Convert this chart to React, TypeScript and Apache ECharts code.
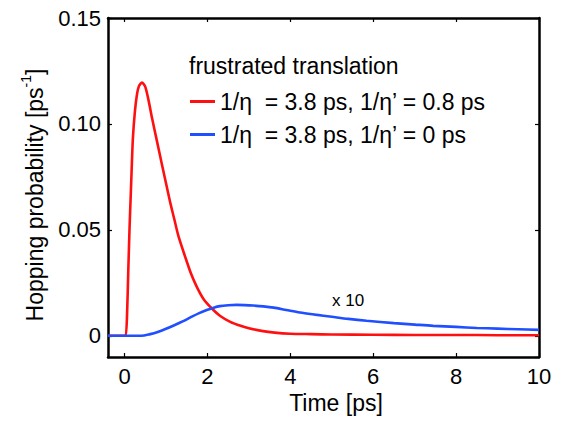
import React, { useEffect, useRef } from 'react';
import * as echarts from 'echarts';

// Red curve: 1/η = 3.8 ps, 1/η' = 0.8 ps
const redT = [-0.4, 0, 0.03, 0.06, 0.09, 0.12, 0.15, 0.17, 0.2, 0.25, 0.3, 0.35, 0.42, 0.5, 0.58, 0.66, 0.78, 0.9, 1.0, 1.1, 1.2, 1.3, 1.45, 1.6, 1.74, 1.9, 2.1, 2.3, 2.55, 2.8, 3.0, 3.34, 3.62, 4.0, 4.5, 5, 6, 7, 8, 9, 10];
const redV = [0, 0, 0, 0.01, 0.031, 0.051, 0.067, 0.078, 0.093, 0.106, 0.114, 0.118, 0.1195, 0.1175, 0.111, 0.103, 0.092, 0.081, 0.072, 0.063, 0.055, 0.047, 0.038, 0.0295, 0.0232, 0.0175, 0.013, 0.0095, 0.0066, 0.0047, 0.0036, 0.0022, 0.0015, 0.001, 0.0008, 0.0006, 0.0005, 0.0004, 0.0004, 0.0003, 0.0003];

// Blue curve (x 10): 1/η = 3.8 ps, 1/η' = 0 ps
const blueT = [-0.4, 0, 0.4, 0.62, 0.8, 1.0, 1.2, 1.4, 1.6, 1.8, 2.0, 2.15, 2.3, 2.5, 2.7, 2.9, 3.1, 3.35, 3.6, 3.9, 4.23, 4.6, 5.0, 5.4, 5.84, 6.5, 7.0, 7.45, 8.0, 8.5, 9.0, 9.5, 10];
const blueV = [0, 0, 0, 0.0008, 0.0018, 0.0033, 0.005, 0.0068, 0.0088, 0.0107, 0.0123, 0.0133, 0.014, 0.0144, 0.0146, 0.0145, 0.0143, 0.0139, 0.0133, 0.0122, 0.011, 0.01, 0.009, 0.008, 0.0071, 0.006, 0.0053, 0.0047, 0.0042, 0.0037, 0.0034, 0.0031, 0.0028];

const seriesNames = ['1/η  = 3.8 ps, 1/η’ = 0.8 ps', '1/η  = 3.8 ps, 1/η’ = 0 ps'];
const legendTitle = 'frustrated translation';
const scaleNote = 'x 10';
const xName = 'Time [ps]';
const xRange = [-0.4, 10];
const yRange = [-0.01, 0.15];

const FONT = '"Liberation Sans", Arial, Helvetica, sans-serif';
const RED = '#ff1010';
const BLUE = '#1f4fff';

export default function App() {
  const ref = useRef<HTMLDivElement>(null);
  useEffect(() => {
    if (!ref.current) return;
    const chart = echarts.init(ref.current, undefined, { renderer: 'svg' });
    const axisLine = { show: true, onZero: false, lineStyle: { color: '#000', width: 2.5 } };
    const axisTick = { show: true, inside: true, length: 4, lineStyle: { color: '#000', width: 1.2 } };
    const option: any = {
      animation: false,
      textStyle: { fontFamily: FONT, color: '#000' },
      title: {
        text: legendTitle,
        left: 189,
        top: 54,
        padding: 0,
        textStyle: { fontSize: 23, fontWeight: 'normal', color: '#000', fontFamily: FONT, lineHeight: 23 },
      },
      legend: {
        orient: 'vertical',
        left: 190,
        top: 89,
        padding: 0,
        itemGap: 8,
        itemWidth: 25,
        itemHeight: 3,
        icon: 'rect',
        textStyle: { fontSize: 23, color: '#000', fontFamily: FONT, lineHeight: 25 },
        data: seriesNames,
      },
      grid: { left: 108, top: 18, width: 431, height: 339, containLabel: false },
      xAxis: [
        {
          type: 'value', min: xRange[0], max: xRange[1], splitNumber: 5, position: 'bottom',
          axisLine, axisTick, splitLine: { show: false },
          axisLabel: { showMinLabel: false, fontSize: 22, color: '#000', fontFamily: FONT, margin: 8 },
          name: xName, nameLocation: 'middle', nameGap: 29,
          nameTextStyle: { fontSize: 23, color: '#000', fontFamily: FONT, padding: [0, 0, 0, 25] },
        },
        {
          type: 'value', min: xRange[0], max: xRange[1], splitNumber: 5, position: 'top',
          axisLine, axisTick, splitLine: { show: false }, axisLabel: { show: false },
        },
      ],
      yAxis: [
        {
          type: 'value', min: yRange[0], max: yRange[1], splitNumber: 3, position: 'left',
          axisLine, axisTick, splitLine: { show: false },
          axisLabel: {
            showMinLabel: false, fontSize: 22, color: '#000', fontFamily: FONT, margin: 7,
            formatter: (v: number) => (Math.abs(v) < 1e-9 ? '0' : v.toFixed(2)),
          },
          name: '{a|Hopping probability [ps}{s|-1}{a|]}',
          nameLocation: 'middle', nameGap: 62, nameRotate: 90,
          nameTextStyle: {
            color: '#000', fontFamily: FONT, padding: [0, 15, 0, 0],
            rich: {
              a: { fontSize: 23, color: '#000', fontFamily: FONT, lineHeight: 27, verticalAlign: 'bottom' },
              s: { fontSize: 14, color: '#000', fontFamily: FONT, lineHeight: 27, verticalAlign: 'top' },
            },
          },
        },
        {
          type: 'value', min: yRange[0], max: yRange[1], splitNumber: 3, position: 'right',
          axisLine, axisTick, splitLine: { show: false }, axisLabel: { show: false },
        },
      ],
      series: [
        {
          type: 'line', name: seriesNames[0], xAxisIndex: 0, yAxisIndex: 0,
          data: redT.map((t, i) => [t, redV[i]]),
          symbol: 'none', showSymbol: false, smooth: 0.25,
          lineStyle: { color: RED, width: 2.6 }, itemStyle: { color: RED },
        },
        {
          type: 'line', name: seriesNames[1], xAxisIndex: 0, yAxisIndex: 0,
          data: blueT.map((t, i) => [t, blueV[i]]),
          symbol: 'none', showSymbol: false, smooth: 0.3,
          lineStyle: { color: BLUE, width: 2.6 }, itemStyle: { color: BLUE },
        },
      ],
      graphic: [
        {
          type: 'text', x: 332, y: 300,
          style: { text: scaleNote, fontSize: 17, fill: '#000', fontFamily: FONT, verticalAlign: 'middle' },
        },
      ],
    };
    chart.setOption(option);
    return () => chart.dispose();
  }, []);
  return <div ref={ref} style={{ position: 'absolute', left: 0, top: 0, width: 564, height: 425 }} />;
}
